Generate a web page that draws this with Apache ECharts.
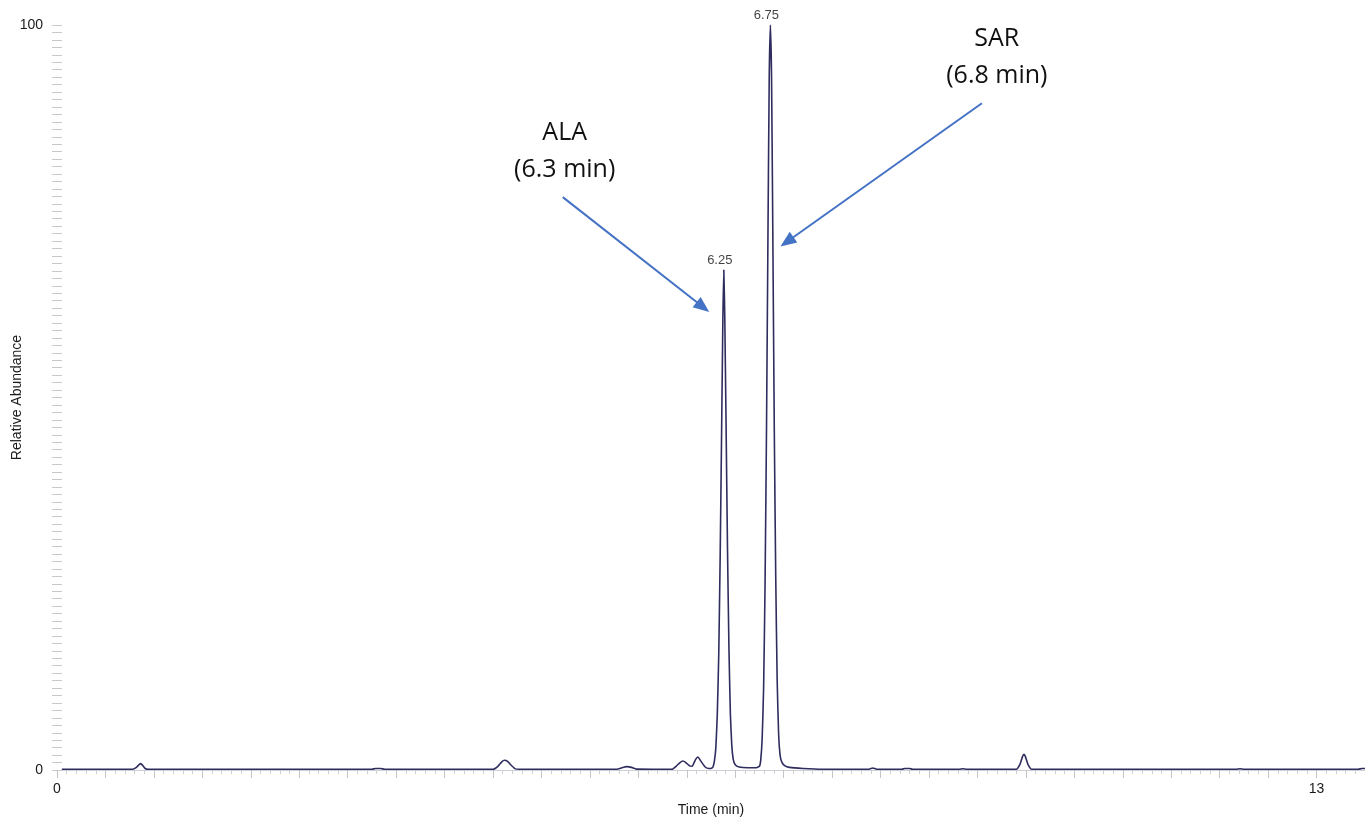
<!DOCTYPE html>
<html>
<head>
<meta charset="utf-8">
<script src="https://cdn.jsdelivr.net/npm/echarts@6/dist/echarts.min.js"></script>
<style>
html,body{margin:0;padding:0;background:#fff;}
#chart{width:1365px;height:818px;}
</style>
</head>
<body>
<div id="chart"></div>
<script>
// Retention time (min) on the drawn axis, and relative abundance (%)
const times = [
  0.05, 0.78, 0.82, 0.845, 0.865, 0.885, 0.91, 0.94,
  3.25, 3.29, 3.34, 3.38,
  4.50, 4.55, 4.59, 4.62, 4.65, 4.69, 4.73, 4.77,
  5.78, 5.83, 5.88, 5.93, 5.98,
  6.35, 6.39, 6.43, 6.46, 6.49, 6.53, 6.555, 6.59, 6.615, 6.645, 6.69, 6.73, 6.755,
  6.77, 6.785, 6.80, 6.815, 6.83, 6.845, 6.86, 6.872, 6.882, 6.892, 6.905, 6.92, 6.935, 6.95, 6.965, 6.98, 7.00, 7.04, 7.13, 7.21,
  7.25, 7.263, 7.278, 7.293, 7.308, 7.323, 7.338, 7.351, 7.363, 7.375, 7.388, 7.403, 7.418, 7.433, 7.448, 7.463, 7.48, 7.51, 7.56, 7.70, 7.90,
  8.38, 8.42, 8.46,
  8.72, 8.75, 8.80, 8.83,
  9.31, 9.35, 9.39,
  9.90, 9.94, 9.965, 9.98, 9.995, 10.02, 10.06,
  12.17, 12.21, 12.25,
  13.43, 13.47, 13.5
];
const abundance = [
  0.1, 0.1, 0.35, 0.7, 0.85, 0.6, 0.2, 0.1,
  0.1, 0.2, 0.2, 0.1,
  0.1, 0.5, 1.1, 1.3, 1.15, 0.6, 0.15, 0.1,
  0.1, 0.3, 0.45, 0.35, 0.12,
  0.1, 0.5, 1.0, 1.2, 1.0, 0.55, 0.5, 1.4, 1.75, 1.2, 0.4, 0.2, 0.25,
  0.4, 1.2, 3, 7.5, 15.5, 29, 46, 60, 67.1, 61, 47, 30, 16.5, 7.5, 3.2, 1.4, 0.7, 0.4, 0.3, 0.3,
  0.5, 1.3, 4.2, 11, 25, 46, 72, 93, 100, 93, 72, 46, 26, 12, 4.8, 2, 1.1, 0.6, 0.35, 0.2, 0.1,
  0.1, 0.27, 0.1,
  0.1, 0.2, 0.2, 0.1,
  0.1, 0.17, 0.1,
  0.1, 0.8, 1.8, 2.1, 1.8, 0.8, 0.1,
  0.1, 0.17, 0.1,
  0.1, 0.2, 0.2
];
// Labelled peaks
const peakTimes = [6.882, 7.363];
const peakValues = [67.1, 100];
const peakLabels = ['6.25', '6.75'];
// Compound annotations
const annoNames = ['ALA', 'SAR'];
const annoRT = ['(6.3 min)', '(6.8 min)'];
const annoTextPos = [[5.24, 83.0], [9.70, 95.6]];
const annoArrowFrom = [[5.22, 76.9], [9.546, 89.5]];
const annoArrowTo = [[6.667, 62.15], [7.534, 70.9]];
// Axis tick labels
const xTickLabels = [0, 13];
const yTickLabels = [0, 100];

const chart = echarts.init(document.getElementById('chart'));
const fontSans = '"Liberation Sans", Arial, sans-serif';

const option = {
  animation: false,
  backgroundColor: '#ffffff',
  grid: {left: 57, right: 0, top: 25, bottom: 48, containLabel: false, outerBoundsMode: 'none'},
  xAxis: {
    type: 'value', min: 0, max: 13.5, interval: 0.5,
    name: 'Time (min)', nameLocation: 'middle', nameGap: 33, nameMoveOverlap: false,
    nameTextStyle: {fontFamily: fontSans, fontSize: 14, color: '#1a1a1a'},
    axisLine: {show: true, lineStyle: {color: '#cfcfd8', width: 1}},
    axisTick: {show: true, length: 8, lineStyle: {color: '#c4c4c4'}},
    minorTick: {show: true, splitNumber: 5, length: 4, lineStyle: {color: '#cfcfcf'}},
    splitLine: {show: false},
    axisLabel: {
      margin: 12, fontFamily: fontSans, fontSize: 14, color: '#1a1a1a',
      formatter: v => xTickLabels.some(t => Math.abs(t - v) < 1e-6) ? String(Math.round(v)) : ''
    }
  },
  yAxis: [{
    type: 'value', min: 0, max: 100, interval: 1,
    name: 'Relative Abundance', nameLocation: 'middle', nameGap: 33, nameRotate: 90, nameMoveOverlap: false,
    nameTextStyle: {fontFamily: fontSans, fontSize: 14, color: '#1a1a1a'},
    axisLine: {show: false},
    axisTick: {show: true, length: 5, lineStyle: {color: '#c8c8c8'}},
    splitLine: {show: false},
    axisLabel: {
      margin: 14, fontFamily: fontSans, fontSize: 14, color: '#1a1a1a',
      formatter: v => yTickLabels.some(t => Math.abs(t - v) < 1e-6) ? String(Math.round(v)) : ''
    }
  }, {
    type: 'value', min: 0, max: 100, interval: 1, position: 'left',
    axisLine: {show: false},
    axisTick: {show: true, inside: true, length: 5, lineStyle: {color: '#c8c8c8'}},
    splitLine: {show: false},
    axisLabel: {show: false}
  }],
  series: [{
    type: 'line',
    data: times.map((t, i) => [t, abundance[i]]),
    showSymbol: false,
    smooth: 0.15,
    lineStyle: {color: '#2f2c5e', width: 1.6},
    itemStyle: {color: '#2f2c5e'},
    z: 5,
    markLine: {
      silent: true,
      symbol: ['none', 'triangle'],
      symbolSize: [13, 16],
      label: {show: false},
      lineStyle: {color: '#4472c4', width: 2, type: 'solid'},
      data: annoArrowFrom.map((p, i) => [{coord: p}, {coord: annoArrowTo[i]}])
    },
    markPoint: {
      silent: true,
      symbol: 'circle', symbolSize: 0,
      data: annoTextPos.map((p, i) => ({
        coord: p,
        label: {
          show: true, position: 'inside',
          formatter: annoNames[i] + '\n' + annoRT[i],
          fontFamily: '"Open Sans", "Noto Sans", sans-serif',
          fontSize: 25, lineHeight: 37, color: '#111', align: 'center'
        }
      }))
    }
  }, {
    type: 'scatter',
    data: peakTimes.map((t, i) => [t, peakValues[i]]),
    symbolSize: 0,
    z: 6,
    label: {
      show: true, position: 'top', distance: 3, offset: [-4, 0],
      fontFamily: fontSans, fontSize: 13, color: '#111',
      formatter: p => peakLabels[p.dataIndex]
    }
  }]
};
chart.setOption(option);
</script>
</body>
</html>
